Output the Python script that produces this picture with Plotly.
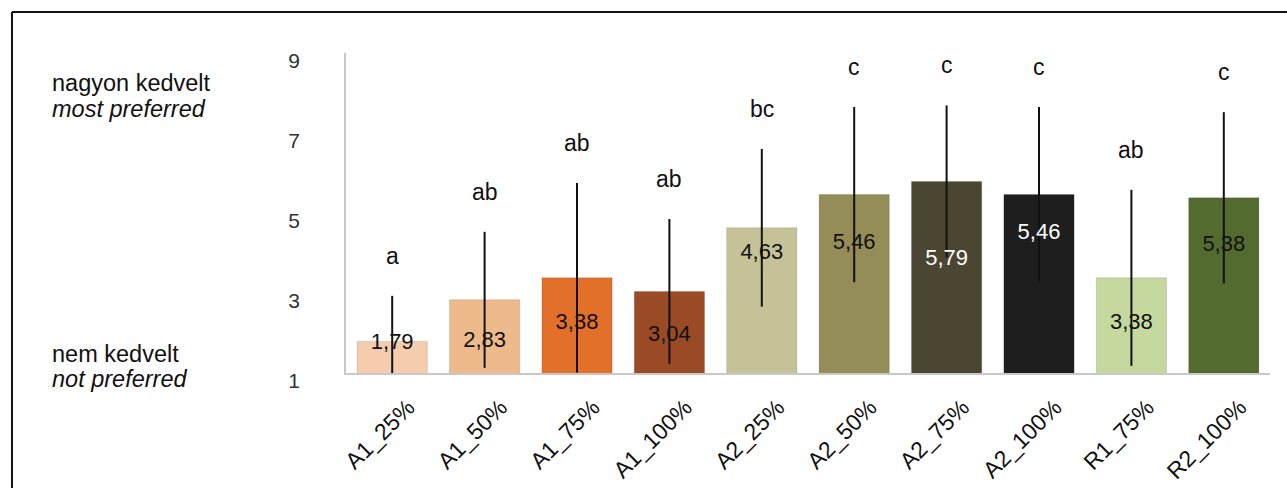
import plotly.graph_objects as go

categories = ["A1_25%", "A1_50%", "A1_75%", "A1_100%", "A2_25%",
              "A2_50%", "A2_75%", "A2_100%", "R1_75%", "R2_100%"]
means = [1.79, 2.83, 3.38, 3.04, 4.63, 5.46, 5.79, 5.46, 3.38, 5.38]
sds = [1.14, 1.70, 2.37, 1.81, 1.97, 2.19, 1.90, 2.19, 2.20, 2.14]
letters = ["a", "ab", "ab", "ab", "bc", "c", "c", "c", "ab", "c"]
label_heights = [1.75, 1.78, 2.25, 1.93, 4.0, 4.25, 3.83, 4.48, 2.25, 4.2]
value_labels = ["1,79", "2,83", "3,38", "3,04", "4,63", "5,46", "5,79", "5,46", "3,38", "5,38"]
bar_colors = ["#F5CDAE", "#EFBA8B", "#E3702A", "#9A4A25", "#C6C298",
              "#958D57", "#4B4632", "#1E1E1E", "#C5D99E", "#546B2F"]
label_colors = ["#111", "#111", "#111", "#111", "#111",
                "#111", "#FFFFFF", "#FFFFFF", "#111", "#111"]
y_ticks = [1, 3, 5, 7, 9]

FONT = "Liberation Sans, Arial, sans-serif"

fig = go.Figure()
fig.add_trace(go.Bar(
    x=categories, y=means,
    marker=dict(color=bar_colors, line=dict(color="rgba(0,0,0,0.12)", width=1)),
    error_y=dict(type="data", array=sds, visible=True, color="#111",
                 thickness=2, width=0),
    hoverinfo="skip", showlegend=False,
))
fig.add_trace(go.Scatter(
    x=categories, y=label_heights, mode="text", text=value_labels,
    textfont=dict(family=FONT, size=22, color=label_colors),
    hoverinfo="skip", showlegend=False, cliponaxis=False,
))

for c, m, s, l in zip(categories, means, sds, letters):
    fig.add_annotation(x=c, y=m + s, text=l, showarrow=False, yshift=40,
                       font=dict(family=FONT, size=23, color="#111"))

# Left side descriptive labels
side_labels = [("nagyon kedvelt", 0.905), ("<i>most preferred</i>", 0.826),
               ("nem kedvelt", 0.060), ("<i>not preferred</i>", -0.019)]
for txt, yp in side_labels:
    fig.add_annotation(xref="paper", yref="paper", x=-0.320, y=yp, text=txt,
                       showarrow=False, xanchor="left", yanchor="middle",
                       font=dict(family=FONT, size=23.5, color="#111"))

# Frame lines (top and left)
fig.add_shape(type="line", xref="paper", yref="paper", x0=-0.3615, x1=1.05,
              y0=1.128, y1=1.128, line=dict(color="#111", width=2))
fig.add_shape(type="line", xref="paper", yref="paper", x0=-0.3615, x1=-0.3615,
              y0=1.128, y1=-0.5, line=dict(color="#111", width=2))

fig.update_layout(
    width=1287, height=488,
    margin=dict(l=346, r=17, t=53, b=115, autoexpand=False),
    paper_bgcolor="white", plot_bgcolor="white",
    bargap=0.24,
    font=dict(family=FONT, color="#222"),
    xaxis=dict(tickangle=-45, tickfont=dict(family=FONT, size=23, color="#111"),
               showline=True, linecolor="#C8C8C8", linewidth=1.5, automargin=False,
               showgrid=False, ticks="", ticklabelshift=16, ticklabelstandoff=10),
    yaxis=dict(range=[1, 9], tickvals=y_ticks, ticktext=[str(t) for t in y_ticks],
               tickfont=dict(family=FONT, size=21, color="#333"), automargin=False,
               showline=True, linecolor="#C8C8C8", linewidth=1.5,
               showgrid=False, zeroline=False, ticks="", ticklabelstandoff=40,
               ticklabelshift=8),
)

fig.write_html("out.html", config={"displayModeBar": False},
               post_script="document.body.style.margin='0';document.body.style.overflow='hidden';")
